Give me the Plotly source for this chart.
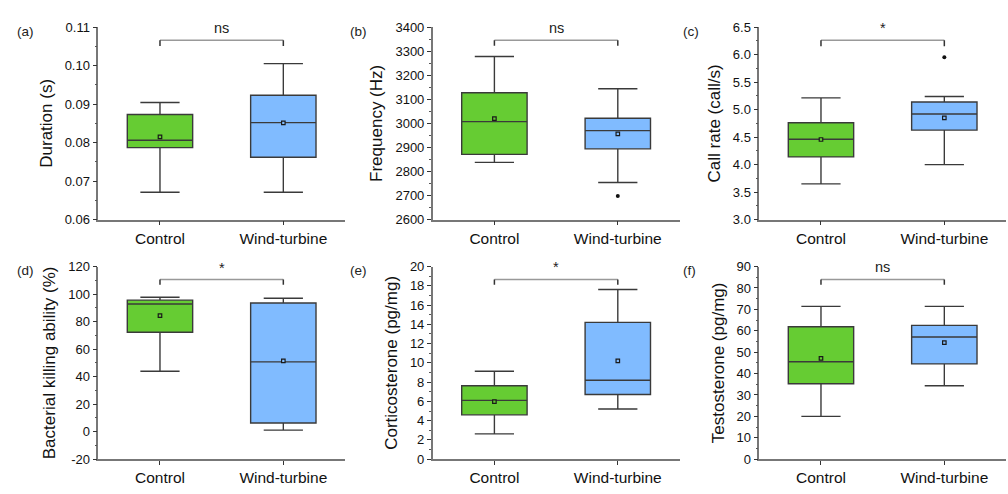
import plotly.graph_objects as go

categories = ["Control", "Wind-turbine"]
panel_labels = ["(a)", "(b)", "(c)", "(d)", "(e)", "(f)"]
y_titles = ["Duration (s)", "Frequency (Hz)", "Call rate (call/s)",
            "Bacterial killing ability (%)", "Corticosterone (pg/mg)", "Testosterone (pg/mg)"]

# box statistics, [Control, Wind-turbine] per panel
lower_whisker = [[0.0671, 0.0671], [2838, 2754], [3.65, 4.00], [43.9, 1.1], [2.62, 5.2], [20.0, 34.3]]
q1_vals = [[0.0787, 0.0762], [2871, 2894], [4.14, 4.627], [72.3, 6.3], [4.6, 6.71], [35.2, 44.5]]
median_vals = [[0.0806, 0.0852], [3007, 2970], [4.462, 4.92], [92.8, 50.7], [6.1, 8.19], [45.5, 57.1]]
q3_vals = [[0.0873, 0.0923], [3127, 3021], [4.762, 5.138], [95.6, 93.5], [7.62, 14.2], [61.9, 62.5]]
upper_whisker = [[0.0904, 0.1005], [3278, 3144], [5.214, 5.238], [97.7, 97.0], [9.13, 17.62], [71.4, 71.4]]
mean_vals = [[0.0815, 0.0851], [3020, 2956], [4.457, 4.85], [84.3, 51.4], [5.97, 10.2], [47.1, 54.5]]
# outliers: (panel index, category, value)
outlier_panel = [1, 2]
outlier_cat = ["Wind-turbine", "Wind-turbine"]
outlier_val = [2698, 5.95]

sig_text = ["ns", "ns", "*", "*", "*", "ns"]
bracket_top = [0.1066, 3345, 6.26, 110.6, 18.66, 84.0]
bracket_end = [0.1051, 3322, 6.15, 106.8, 18.1, 81.5]

y_ranges = [[0.06, 0.11], [2600, 3400], [3.0, 6.5], [-20, 120], [0, 20], [0, 90]]
tick_vals = [
    [0.06, 0.07, 0.08, 0.09, 0.10, 0.11],
    [2600, 2700, 2800, 2900, 3000, 3100, 3200, 3300, 3400],
    [3.0, 3.5, 4.0, 4.5, 5.0, 5.5, 6.0, 6.5],
    [-20, 0, 20, 40, 60, 80, 100, 120],
    [0, 2, 4, 6, 8, 10, 12, 14, 16, 18, 20],
    [0, 10, 20, 30, 40, 50, 60, 70, 80, 90],
]
tick_text = [
    ["0.06", "0.07", "0.08", "0.09", "0.10", "0.11"],
    ["2600", "2700", "2800", "2900", "3000", "3100", "3200", "3300", "3400"],
    ["3.0", "3.5", "4.0", "4.5", "5.0", "5.5", "6.0", "6.5"],
    ["-20", "0", "20", "40", "60", "80", "100", "120"],
    ["0", "2", "4", "6", "8", "10", "12", "14", "16", "18", "20"],
    ["0", "10", "20", "30", "40", "50", "60", "70", "80", "90"],
]
minor_step = [0.005, 50, 0.25, 10, 1, 5]

fill_colors = ["#66CC33", "#80BBFF"]
FONT = "Arial, Liberation Sans, sans-serif"
W, H = 1008, 494

x_dom_px = [(98.3, 345.0), (432.7, 679.5), (759.3, 1006.0)]
y_dom_px = [(20.7, 219.3), (267.7, 466.3)]

fig = go.Figure()
layout = dict(
    width=W, height=H, margin=dict(l=0, r=0, t=0, b=0),
    paper_bgcolor="white", plot_bgcolor="white",
    showlegend=False, boxmode="overlay",
    font=dict(family=FONT, color="#222"),
)
annotations = []

for i in range(6):
    n = i + 1
    xa = "x" if n == 1 else f"x{n}"
    ya = "y" if n == 1 else f"y{n}"
    col, row = i % 3, i // 3
    xd = [x_dom_px[col][0] / W, x_dom_px[col][1] / W]
    yd = [1 - y_dom_px[row][1] / H, 1 - y_dom_px[row][0] / H]

    for c in range(2):
        fig.add_trace(go.Box(
            x=[categories[c]], q1=[q1_vals[i][c]], median=[median_vals[i][c]],
            q3=[q3_vals[i][c]], lowerfence=[lower_whisker[i][c]],
            upperfence=[upper_whisker[i][c]],
            fillcolor=fill_colors[c], line=dict(color="#3a3a3a", width=1.4),
            width=0.53, whiskerwidth=0.6, boxpoints=False,
            xaxis=xa, yaxis=ya, hoverinfo="skip",
        ))
        fig.add_trace(go.Scatter(
            x=[categories[c]], y=[mean_vals[i][c]], mode="markers",
            marker=dict(symbol="square", size=3.5, color=fill_colors[c],
                        line=dict(color="#1a1a1a", width=1.2)),
            xaxis=xa, yaxis=ya, hoverinfo="skip",
        ))

    for p, cat, v in zip(outlier_panel, outlier_cat, outlier_val):
        if p == i:
            fig.add_trace(go.Scatter(
                x=[cat], y=[v], mode="markers",
                marker=dict(symbol="circle", size=4, color="#111"),
                xaxis=xa, yaxis=ya, hoverinfo="skip",
            ))

    # significance bracket
    fig.add_trace(go.Scatter(
        x=[categories[0], categories[1]], y=[bracket_top[i], bracket_top[i]],
        mode="lines", line=dict(color="#999999", width=1.5),
        xaxis=xa, yaxis=ya, hoverinfo="skip",
    ))
    for c in range(2):
        fig.add_trace(go.Scatter(
            x=[categories[c], categories[c]], y=[bracket_end[i], bracket_top[i]],
            mode="lines", line=dict(color="#333333", width=1.5),
            xaxis=xa, yaxis=ya, hoverinfo="skip",
        ))
    annotations.append(dict(
        x=0.5, y=bracket_top[i], xref=xa, yref=ya, text=sig_text[i],
        showarrow=False, yanchor="bottom", yshift=2,
        font=dict(family=FONT, size=14.5, color="#222"),
    ))

    # panel label
    lx = [15, 348, 681][col]
    ly = [25, 272][row]
    annotations.append(dict(
        x=lx / W, y=1 - ly / H, xref="paper", yref="paper", text=panel_labels[i],
        showarrow=False, xanchor="left", yanchor="middle",
        font=dict(family=FONT, size=13.5, color="#222"),
    ))

    layout["xaxis" if n == 1 else f"xaxis{n}"] = dict(
        domain=xd, anchor=ya, type="category", range=[-0.5, 1.5],
        categoryorder="array", categoryarray=categories,
        showline=True, linecolor="#777777", linewidth=1.5,
        ticks="outside", ticklen=4, tickwidth=1.3, tickcolor="#333",
        showgrid=False, zeroline=False,
        tickfont=dict(family=FONT, size=15.5, color="#111"),
    )
    layout["yaxis" if n == 1 else f"yaxis{n}"] = dict(
        domain=yd, anchor=xa, range=y_ranges[i],
        tickmode="array", tickvals=tick_vals[i], ticktext=tick_text[i],
        showline=True, linecolor="#777777", linewidth=1.5,
        ticks="outside", ticklen=4, tickwidth=1.3, tickcolor="#333",
        minor=dict(ticks="outside", ticklen=2, tickwidth=1, tickcolor="#555",
                   tick0=y_ranges[i][0], dtick=minor_step[i]),
        showgrid=False, zeroline=False,
        tickfont=dict(family=FONT, size=13, color="#111"),
        title=dict(text=y_titles[i], font=dict(family=FONT, size=17, color="#111"),
                   standoff=8),
    )

layout["annotations"] = annotations
fig.update_layout(**layout)
fig.write_html("out.html")
